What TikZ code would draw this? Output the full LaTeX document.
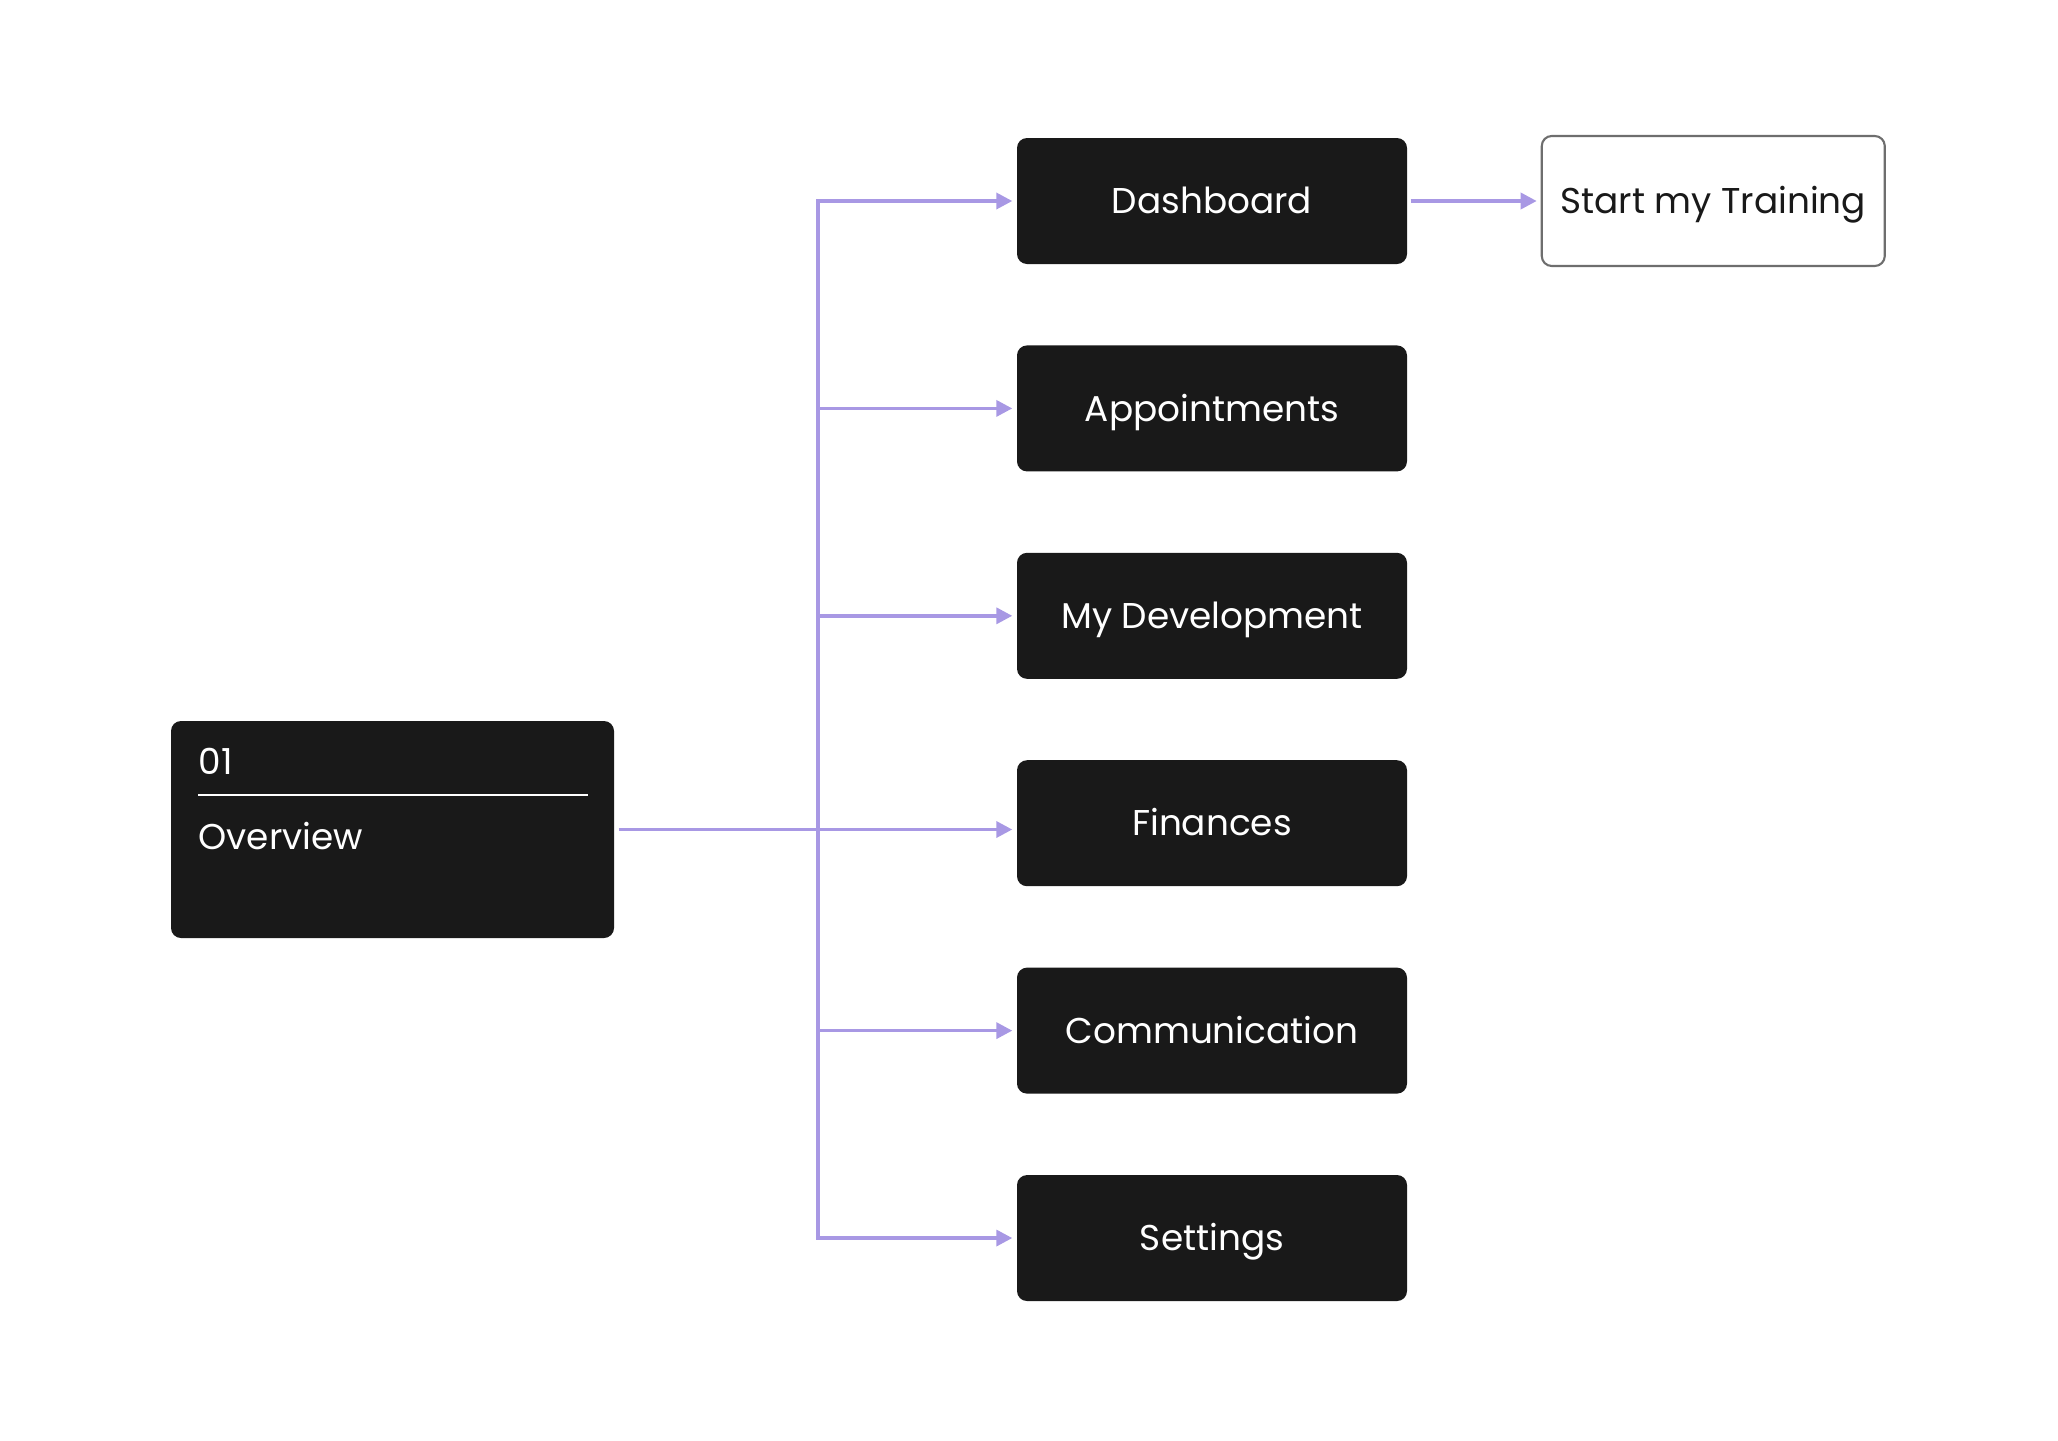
\documentclass[tikz,border=0pt]{standalone}
\usepackage{fontspec}
\setmainfont{Poppins}
\usepackage{tikz}
\usetikzlibrary{arrows.meta,positioning}
\definecolor{boxdark}{HTML}{191919}
\definecolor{flowline}{HTML}{A898E4}
\definecolor{boxedge}{HTML}{6E6E6E}

\begin{document}
\begin{tikzpicture}[
    node distance=0.80cm,
    page/.style={rectangle, rounded corners=1mm, fill=boxdark, text=white, minimum width=3.9cm, minimum height=1.26cm, inner sep=0pt, text height=0.72em, text depth=0pt, font=\fontsize{10.2}{12}\selectfont},
    sub/.style={rectangle, draw=boxedge, line width=0.6pt, rounded corners=1mm, fill=white, text=boxdark, minimum width=3.43cm, minimum height=1.3cm, inner sep=0pt, text height=0.72em, text depth=0pt, font=\fontsize{10.2}{12}\selectfont},
    flow/.style={draw=flowline, line width=1pt, -{Triangle[length=1.6mm, width=1.6mm]}, shorten >=0.4mm}
]
    \useasboundingbox (0,0) rectangle (20.58,-14.40);

    % Section
    \node[rectangle, rounded corners=1mm, fill=boxdark, minimum width=4.43cm, minimum height=2.17cm] (ov) at (3.925,-8.295) {};
    \node[anchor=west, inner sep=0, text=white, font=\fontsize{10.2}{12}\selectfont] (ovnum) at (1.98,-7.61) {01};
    \node[anchor=west, inner sep=0, text=white, font=\fontsize{10.2}{12}\selectfont] (ovtitle) at (1.98,-8.36) {Overview};
    \draw[white, line width=0.8pt] (1.98,-7.95) -- (5.88,-7.95);

    % Pages
    \node[page] (dash) at (12.12,-2.01) {Dashboard};
    \node[page, below=of dash] (appt) {Appointments};
    \node[page, below=of appt] (dev) {My Development};
    \node[page, below=of dev] (fin) {Finances};
    \node[page, below=of fin] (comm) {Communication};
    \node[page, below=of comm] (sett) {Settings};

    % Sub page
    \node[sub, right=1.33cm of dash] (train) {Start my Training};

    % Connections
    \coordinate (trunk) at (8.18,-8.30);
    \draw[flow, shorten <=0.4mm] (ov.east) -- (ov.east -| fin.west);
    \foreach \p in {dash,appt,dev,comm,sett}
        \draw[flow] (trunk) |- (\p.west);
    \draw[flow, shorten <=0.3mm] (dash.east) -- (train.west);
\end{tikzpicture}
\end{document}
